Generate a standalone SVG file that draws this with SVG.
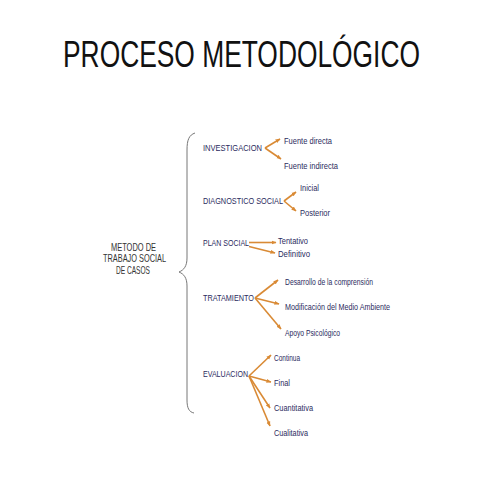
<svg xmlns="http://www.w3.org/2000/svg" width="480" height="480" viewBox="0 0 480 480">
<defs>
<marker id="ah" viewBox="0 0 10 10" refX="9" refY="5" markerWidth="5" markerHeight="5" orient="auto" markerUnits="userSpaceOnUse">
<path d="M0,1 L10,5 L0,9 Z" fill="#d98a35"/>
</marker>
</defs>
<style>
.title{font-family:"Liberation Sans",Arial,sans-serif;font-size:36px;fill:#111}
.root{font-family:"Liberation Sans",Arial,sans-serif;font-size:10.5px;fill:#333}
.lab{font-family:"Liberation Sans",sans-serif;font-size:9.5px;fill:#2b2b5e}
.con line{stroke:#d98a35;stroke-width:1.6;marker-end:url(#ah)}
.brace{fill:none;stroke:#777;stroke-width:1}
</style>
<rect width="480" height="480" fill="#fff"/>
<text class="title" x="63" y="67" textLength="357" lengthAdjust="spacingAndGlyphs">PROCESO METODOLÓGICO</text>
<g id="root">
<text class="root" x="111" y="251" textLength="45" lengthAdjust="spacingAndGlyphs">METODO DE</text>
<text class="root" x="103" y="262" textLength="63" lengthAdjust="spacingAndGlyphs">TRABAJO SOCIAL</text>
<text class="root" x="116" y="274" textLength="34" lengthAdjust="spacingAndGlyphs">DE CASOS</text>
</g>
<path class="brace" d="M195,133 C189,135 187,140 187,150 L187,258 C187,266 184,270 179,272 C184,274 187,278 187,286 L187,400 C187,408 189,412 194,413"/>
<g id="investigacion">
<text class="lab" x="203" y="151" textLength="59" lengthAdjust="spacingAndGlyphs">INVESTIGACION</text>
<text class="lab" x="284" y="144" textLength="48" lengthAdjust="spacingAndGlyphs">Fuente directa</text>
<text class="lab" x="284" y="169" textLength="54" lengthAdjust="spacingAndGlyphs">Fuente indirecta</text>
</g>
<g id="diagnostico">
<text class="lab" x="203" y="204" textLength="80" lengthAdjust="spacingAndGlyphs">DIAGNOSTICO SOCIAL</text>
<text class="lab" x="300" y="191" textLength="19" lengthAdjust="spacingAndGlyphs">Inicial</text>
<text class="lab" x="300" y="216" textLength="30" lengthAdjust="spacingAndGlyphs">Posterior</text>
</g>
<g id="plan">
<text class="lab" x="203" y="246" textLength="46" lengthAdjust="spacingAndGlyphs">PLAN SOCIAL</text>
<text class="lab" x="278" y="244" textLength="30" lengthAdjust="spacingAndGlyphs">Tentativo</text>
<text class="lab" x="278" y="257" textLength="32" lengthAdjust="spacingAndGlyphs">Definitivo</text>
</g>
<g id="tratamiento">
<text class="lab" x="203" y="301" textLength="51" lengthAdjust="spacingAndGlyphs">TRATAMIENTO</text>
<text class="lab" x="285" y="285" textLength="88" lengthAdjust="spacingAndGlyphs">Desarrollo de la comprensión</text>
<text class="lab" x="285" y="310" textLength="105" lengthAdjust="spacingAndGlyphs">Modificación del Medio Ambiente</text>
<text class="lab" x="285" y="336" textLength="55" lengthAdjust="spacingAndGlyphs">Apoyo Psicológico</text>
</g>
<g id="evaluacion">
<text class="lab" x="203" y="377" textLength="45" lengthAdjust="spacingAndGlyphs">EVALUACION</text>
<text class="lab" x="274" y="361" textLength="26" lengthAdjust="spacingAndGlyphs">Continua</text>
<text class="lab" x="274" y="386" textLength="16" lengthAdjust="spacingAndGlyphs">Final</text>
<text class="lab" x="274" y="411" textLength="39" lengthAdjust="spacingAndGlyphs">Cuantitativa</text>
<text class="lab" x="274" y="436" textLength="34" lengthAdjust="spacingAndGlyphs">Cualitativa</text>
</g>
<g class="con" id="connectors">
<line x1="265" y1="148" x2="280" y2="139"/>
<line x1="265" y1="148" x2="281" y2="159"/>
<line x1="284" y1="201" x2="296" y2="192"/>
<line x1="284" y1="201" x2="296" y2="211"/>
<line x1="249" y1="242.5" x2="276" y2="242.5"/>
<line x1="249" y1="246.5" x2="275" y2="253"/>
<line x1="255" y1="298" x2="278" y2="280"/>
<line x1="255" y1="298" x2="279" y2="304"/>
<line x1="255" y1="298" x2="281" y2="329"/>
<line x1="249" y1="376" x2="271" y2="355"/>
<line x1="249" y1="376" x2="271" y2="382"/>
<line x1="249" y1="376" x2="270" y2="408"/>
<line x1="249" y1="376" x2="270" y2="426"/>
</g>
</svg>
